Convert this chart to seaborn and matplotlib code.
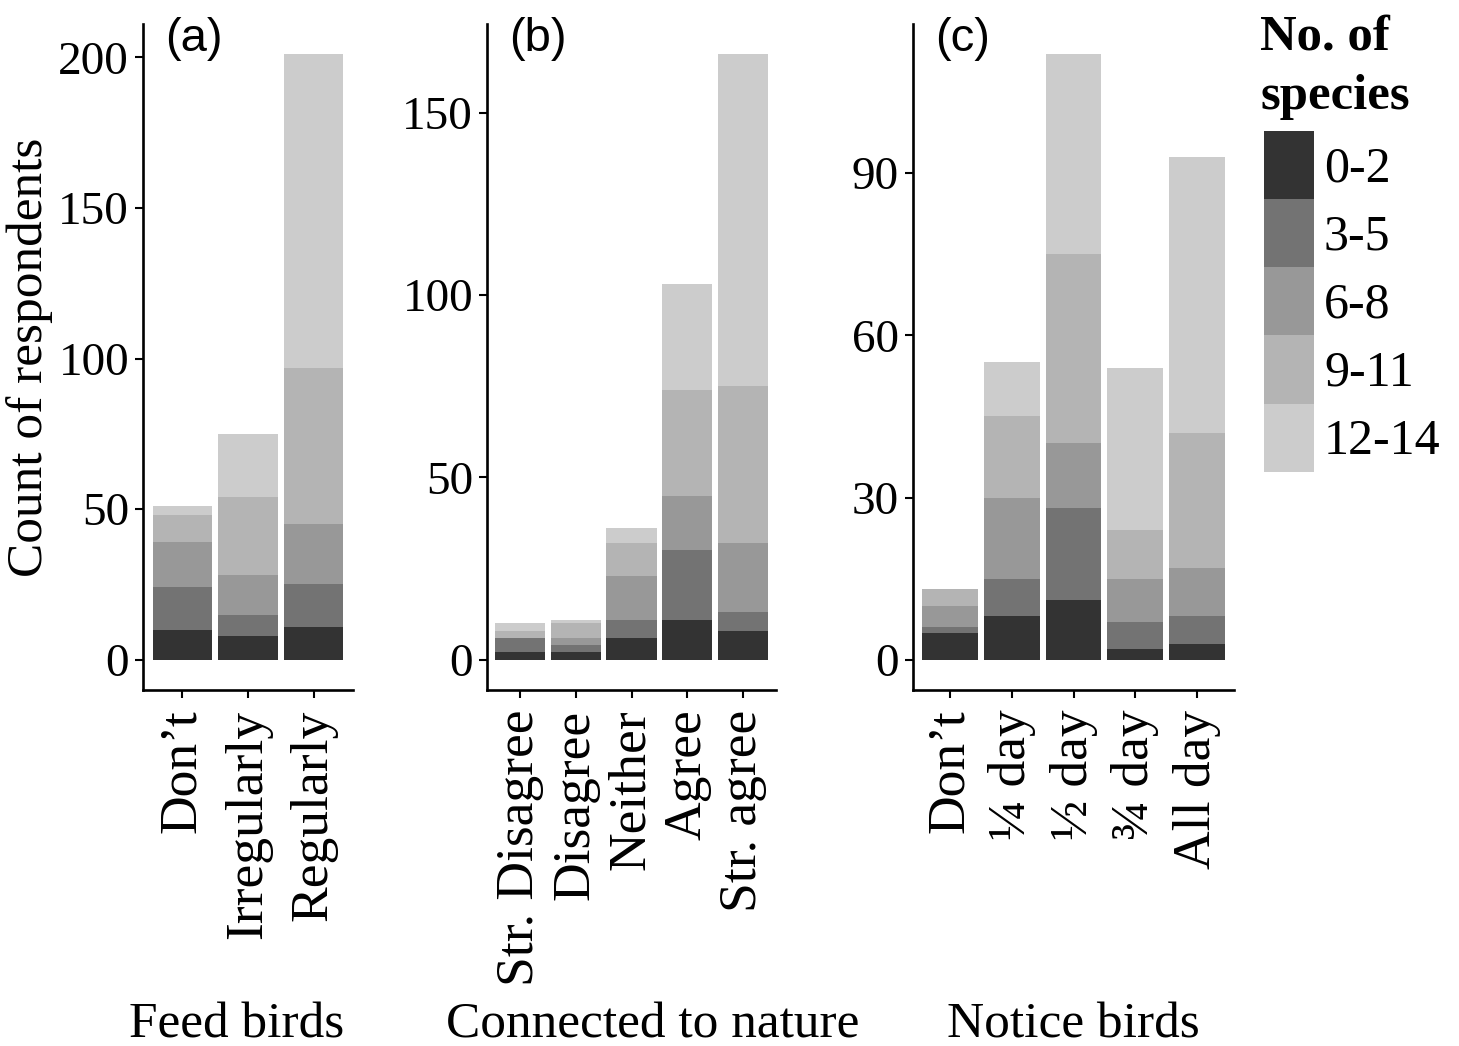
import numpy as np
import pandas as pd
import matplotlib
matplotlib.use("Agg")
import matplotlib.pyplot as plt
from matplotlib.patches import Patch
import seaborn as sns

# ---------------- data ----------------
species_levels = ["0-2", "3-5", "6-8", "9-11", "12-14"]
species_colors = ["#333333", "#737373", "#989898", "#B4B4B4", "#CCCCCC"]

feed_cats = ["Don\u2019t", "Irregularly", "Regularly"]
feed_counts = {
    "0-2":   [10, 8, 11],
    "3-5":   [14, 7, 14],
    "6-8":   [15, 13, 20],
    "9-11":  [9, 26, 52],
    "12-14": [3, 21, 104],
}

nature_cats = ["Str. Disagree", "Disagree", "Neither", "Agree", "Str. agree"]
nature_counts = {
    "0-2":   [2, 2, 6, 11, 8],
    "3-5":   [4, 2, 5, 19, 5],
    "6-8":   [0, 2, 12, 15, 19],
    "9-11":  [2, 4, 9, 29, 43],
    "12-14": [2, 1, 4, 29, 91],
}

notice_cats = ["Don\u2019t", "\u00bc day", "\u00bd day", "\u00be day", "All day"]
notice_counts = {
    "0-2":   [5, 8, 11, 2, 3],
    "3-5":   [1, 7, 17, 5, 5],
    "6-8":   [4, 15, 12, 8, 9],
    "9-11":  [3, 15, 35, 9, 25],
    "12-14": [0, 10, 37, 30, 51],
}

panel_labels = ["(a)", "(b)", "(c)"]
x_titles = ["Feed birds", "Connected to nature", "Notice birds"]
y_title = "Count of respondents"
y_ticks = [[0, 50, 100, 150, 200], [0, 50, 100, 150], [0, 30, 60, 90]]
legend_title = "No. of\nspecies"

# ---------------- style ----------------
sns.set_theme(style="white")
plt.rcParams["font.family"] = ["Liberation Serif", "DejaVu Serif"]
for k in ["text.color", "axes.labelcolor", "xtick.color", "ytick.color", "axes.edgecolor"]:
    plt.rcParams[k] = "black"

W, H = 1459, 1046
fig = plt.figure(figsize=(W / 100, H / 100), dpi=100)

def fx(px):
    return px / W

ax_bottom_px, ax_top_px = 690, 24
axes_px = [(143, 353), (487, 776), (913, 1234)]
xlabel_centers_px = [237, 653, 1073]
palette = dict(zip(species_levels, species_colors))

datasets = [(feed_cats, feed_counts), (nature_cats, nature_counts), (notice_cats, notice_counts)]

for i, ((cats, counts), (l, r)) in enumerate(zip(datasets, axes_px)):
    ax = fig.add_axes([fx(l), 1 - ax_bottom_px / H, fx(r - l), (ax_bottom_px - ax_top_px) / H])
    rows = []
    for sp in species_levels:
        for c, v in zip(cats, counts[sp]):
            rows.append({"cat": c, "species": sp, "n": v})
    df = pd.DataFrame(rows)
    df["cat"] = pd.Categorical(df["cat"], categories=cats, ordered=True)
    df["code"] = df["cat"].cat.codes
    sns.histplot(data=df, x="code", weights="n", hue="species",
                 hue_order=species_levels[::-1], palette=palette,
                 multiple="stack", discrete=True, shrink=0.9,
                 alpha=1, linewidth=0, edgecolor="none", legend=False, ax=ax)
    totals = np.sum([counts[s] for s in species_levels], axis=0)
    mx = totals.max()
    ax.set_ylim(-0.05 * mx, 1.05 * mx)
    ax.set_xlim(-0.6, len(cats) - 0.4)
    ax.set_xticks(range(len(cats)))
    ax.set_xticklabels(cats, rotation=90, fontsize=38.5, color="black")
    ax.set_yticks(y_ticks[i])
    ax.set_yticklabels([str(t) for t in y_ticks[i]], fontsize=34, color="black")
    for s in ["top", "right"]:
        ax.spines[s].set_visible(False)
    for s in ["left", "bottom"]:
        ax.spines[s].set_color("black")
        ax.spines[s].set_linewidth(1.9)
    ax.tick_params(axis="both", which="major", length=6, width=1.5, color="black",
                   direction="out", bottom=True, left=True)
    ax.tick_params(axis="x", pad=8)
    ax.tick_params(axis="y", pad=4)
    ax.set_xlabel(x_titles[i], fontsize=37, color="black")
    ax.xaxis.set_label_coords((xlabel_centers_px[i] - l) / (r - l),
                              -(1025 - ax_bottom_px) / (ax_bottom_px - ax_top_px))
    ax.xaxis.label.set_va("center")
    if i == 0:
        ax.set_ylabel(y_title, fontsize=37, color="black")
        ax.yaxis.set_label_coords(-(143 - 30) / (r - l), 0.5)
        ax.yaxis.label.set_va("center")
    else:
        ax.set_ylabel("")
    ax.text(22 / (r - l), 1.01, panel_labels[i], transform=ax.transAxes,
            fontsize=34, family=["Liberation Sans", "DejaVu Sans"], va="top", ha="left",
            color="black")
    ax.grid(False)

# legend title as text, legend keys below
fig.text(fx(1260), 1 - 15 / H, legend_title, fontsize=36.5, fontweight="bold",
         va="top", ha="left", linespacing=1.38, color="black")
handles = [Patch(facecolor=c, edgecolor="none") for c in species_colors]
leg = fig.legend(handles, species_levels, loc="upper left",
                 bbox_to_anchor=(fx(1264), 1 - 131 / H), frameon=False,
                 fontsize=36, handlelength=50 * 0.72 / 36, handleheight=1.72,
                 labelspacing=0.0, handletextpad=0.2, borderpad=0.0, borderaxespad=0.0)
for t in leg.get_texts():
    t.set_color("black")

fig.savefig("out.png", dpi=100)
